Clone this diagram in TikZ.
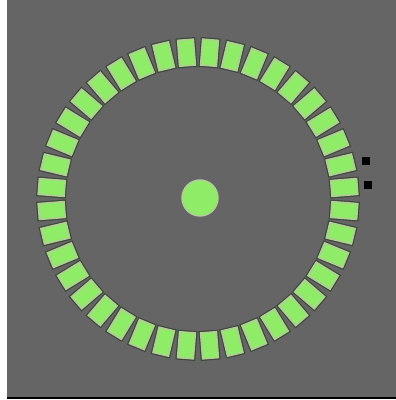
\documentclass[tikz,border=0pt]{standalone}
\definecolor{bggray}{HTML}{656565}
\definecolor{tilefill}{HTML}{8FEC66}
\definecolor{tilerim}{HTML}{B3CC98}
\definecolor{tileedge}{HTML}{3A4838}
\tikzset{
  tile/.style={fill=tilefill, draw=tilerim, line width=1.6bp},
  tileout/.style={draw=tileedge, line width=1.4bp},
  marker/.style={fill=black, draw=none, minimum size=8bp, inner sep=0pt, rectangle},
  hub/.style={circle, fill=tilefill, draw=tilerim, line width=1.4bp, minimum size=36bp, inner sep=0pt}
}
\begin{document}
\begin{tikzpicture}[x=1bp,y=-1bp]
\useasboundingbox (0,0) rectangle (396,400);
\fill[white] (0,0) rectangle (396,400);
\fill[bggray] (7,0) rectangle (396,397);
\fill[black] (7,397) rectangle (396,399);
\foreach \i in {0,...,39} {
  \begin{scope}[shift={(198,199)}, rotate=4.5+9*\i]
    \draw[tileout] (132.5,-9.2) rectangle (161,9.2);
    \draw[tile] (133.8,-7.9) rectangle (159.7,7.9);
  \end{scope}
}
\node[hub] (center) at (200,198) {};
\node[marker] (m1) at (366,161) {};
\node[marker] (m2) at (368,185) {};
\end{tikzpicture}
\end{document}
